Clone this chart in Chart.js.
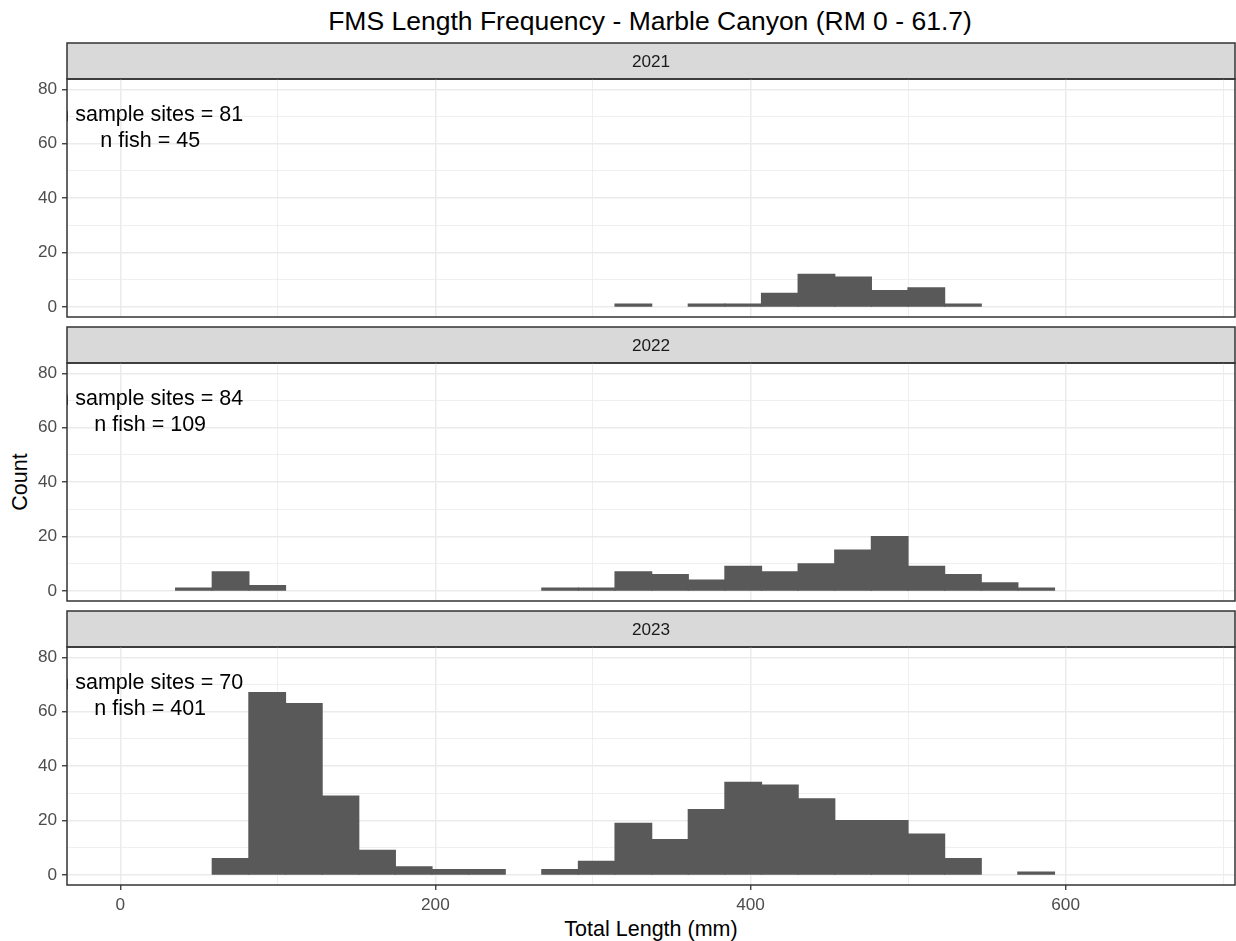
<!DOCTYPE html>
<html>
<head>
<meta charset="utf-8">
<title>FMS Length Frequency - Marble Canyon</title>
<script src="https://cdn.jsdelivr.net/npm/chart.js@4.4.1/dist/chart.umd.min.js"></script>
<style>
  html, body { margin: 0; padding: 0; background: #ffffff; }
  body {
    width: 1236px; height: 941px; position: relative; overflow: hidden;
    font-family: "Liberation Sans", Arial, sans-serif;
  }
  canvas { position: absolute; left: 0; }
  .txt { position: absolute; white-space: nowrap; color: #000; }
  #main-title { left: 650px; top: 5px; font-size: 26.5px; line-height: 32px; transform: translateX(-50%); }
  #y-title { left: 20px; top: 482px; font-size: 21.5px; line-height: 24px; transform: translate(-50%, -50%) rotate(-90deg); }
  #x-title { left: 651px; top: 917px; font-size: 21.5px; line-height: 24px; transform: translateX(-50%); }
</style>
</head>
<body>
<div id="main-title" class="txt">FMS Length Frequency - Marble Canyon (RM 0 - 61.7)</div>
<div id="y-title" class="txt">Count</div>
<div id="x-title" class="txt">Total Length (mm)</div>

<canvas id="p2021" width="1236" height="276" style="top:42px"></canvas>
<canvas id="p2022" width="1236" height="276" style="top:326px"></canvas>
<canvas id="p2023" width="1236" height="331" style="top:610px"></canvas>

<script>
// Histogram bins (mm): centres of the 23.24 mm wide bins
const BIN_CENTERS = [46.78, 70.02, 93.26, 116.50, 139.74, 162.98, 186.22, 209.46,
                     232.70, 255.94, 279.18, 302.42, 325.66, 348.90, 372.14, 395.38,
                     418.62, 441.86, 465.10, 488.34, 511.58, 534.82, 558.06, 581.30];

// Fish counts per bin, one array per sampling year
const COUNTS_2021 = [0, 0, 0, 0, 0, 0, 0, 0, 0, 0, 0, 0, 1, 0, 1, 1, 5, 12, 11, 6, 7, 1, 0, 0];
const COUNTS_2022 = [1, 7, 2, 0, 0, 0, 0, 0, 0, 0, 1, 1, 7, 6, 4, 9, 7, 10, 15, 20, 9, 6, 3, 1];
const COUNTS_2023 = [0, 6, 67, 63, 29, 9, 3, 2, 2, 0, 2, 5, 19, 13, 24, 34, 33, 28, 20, 20, 15, 6, 0, 1];

const YEARS = ['2021', '2022', '2023'];
const SAMPLE_SITES = [81, 84, 70];

// Axis breaks
const X_TICKS = [0, 200, 400, 600];
const Y_TICKS = [0, 20, 40, 60, 80];
const X_MIN = -33.8, X_MAX = 707.5;
const Y_MIN = -3.7, Y_MAX = 83.8;

// Styling
const FONT = '"Liberation Sans", Arial, sans-serif';
const BAR_FILL = '#595959';
const GRID = '#EBEBEB';
const PANEL_LINE = '#333333';
const STRIP_FILL = '#D9D9D9';
const STRIP_TEXT = '#1A1A1A';
const TICK_TEXT = '#4D4D4D';
const STRIP_H = 36;
const LABEL_X = 19, LABEL_Y = 66;

// Facet strip, panel frame and the per-panel sample summary
const facetPlugin = {
  id: 'facet',
  beforeDraw(chart, args, o) {
    const { ctx, chartArea: a } = chart;
    ctx.save();
    ctx.fillStyle = STRIP_FILL;
    ctx.fillRect(a.left, a.top - STRIP_H, a.right - a.left, STRIP_H);
    ctx.strokeStyle = PANEL_LINE;
    ctx.lineWidth = 1.5;
    ctx.strokeRect(a.left, a.top - STRIP_H, a.right - a.left, STRIP_H);
    ctx.fillStyle = STRIP_TEXT;
    ctx.font = '17.2px ' + FONT;
    ctx.textAlign = 'center';
    ctx.textBaseline = 'middle';
    ctx.fillText(o.label, (a.left + a.right) / 2, a.top - STRIP_H / 2 + 1);
    ctx.restore();
  },
  afterDatasetsDraw(chart, args, o) {
    const { ctx, chartArea: a, scales } = chart;
    const cx = scales.x.getPixelForValue(LABEL_X);
    const cy = scales.y.getPixelForValue(LABEL_Y);
    ctx.save();
    ctx.beginPath();
    ctx.rect(a.left, a.top, a.right - a.left, a.bottom - a.top);
    ctx.clip();
    ctx.fillStyle = '#000000';
    ctx.font = '21.5px ' + FONT;
    ctx.textAlign = 'center';
    ctx.textBaseline = 'alphabetic';
    o.lines.forEach((line, i) => ctx.fillText(line, cx, cy - 6.5 + i * 26));
    ctx.restore();
  },
  afterDraw(chart) {
    const { ctx, chartArea: a } = chart;
    ctx.save();
    ctx.strokeStyle = PANEL_LINE;
    ctx.lineWidth = 1.5;
    ctx.strokeRect(a.left, a.top, a.right - a.left, a.bottom - a.top);
    ctx.restore();
  }
};

function makePanel(id, yearIdx, counts, isBottom) {
  const nFish = counts.reduce((s, v) => s + v, 0);
  return new Chart(document.getElementById(id), {
    type: 'bar',
    data: {
      datasets: [{
        // empty bins carry no bar
        data: BIN_CENTERS.map((x, i) => ({ x: x, y: counts[i] > 0 ? counts[i] : null })),
        backgroundColor: BAR_FILL,
        borderWidth: 0,
        inflateAmount: 0.6,
        barPercentage: 1,
        categoryPercentage: 1
      }]
    },
    options: {
      responsive: false,
      animation: false,
      devicePixelRatio: 1,
      events: [],
      layout: { padding: { top: STRIP_H + 1, right: 1, bottom: isBottom ? 0 : 1, left: 0 } },
      plugins: {
        legend: { display: false },
        tooltip: { enabled: false },
        facet: {
          label: YEARS[yearIdx],
          lines: ['n sample sites = ' + SAMPLE_SITES[yearIdx], 'n fish = ' + nFish]
        }
      },
      scales: {
        x: {
          type: 'linear',
          offset: false,
          min: X_MIN,
          max: X_MAX,
          border: { display: false },
          grid: {
            offset: false,
            color: GRID,
            lineWidth: c => (c.tick && X_TICKS.includes(c.tick.value)) ? 1.5 : 0.8,
            drawTicks: isBottom,
            tickLength: 5,
            tickWidth: 1.3,
            tickColor: c => (c.tick && X_TICKS.includes(c.tick.value)) ? PANEL_LINE : 'rgba(0,0,0,0)'
          },
          ticks: {
            display: isBottom,
            stepSize: 100,
            includeBounds: false,
            autoSkip: false,
            maxRotation: 0,
            minRotation: 0,
            padding: 5,
            color: TICK_TEXT,
            font: { family: FONT, size: 17.2 },
            callback: v => X_TICKS.includes(v) ? String(v) : ''
          },
          afterFit: s => { s.height = isBottom ? 56 : 0; s.paddingLeft = 0; s.paddingRight = 0; }
        },
        y: {
          type: 'linear',
          min: Y_MIN,
          max: Y_MAX,
          border: { display: false },
          grid: {
            color: GRID,
            lineWidth: c => (c.tick && Y_TICKS.includes(c.tick.value)) ? 1.5 : 0.8,
            tickLength: 5,
            tickWidth: 1.3,
            tickColor: c => (c.tick && Y_TICKS.includes(c.tick.value)) ? PANEL_LINE : 'rgba(0,0,0,0)'
          },
          ticks: {
            stepSize: 10,
            includeBounds: false,
            autoSkip: false,
            padding: 5,
            color: TICK_TEXT,
            font: { family: FONT, size: 17.2 },
            callback: v => Y_TICKS.includes(v) ? String(v) : ''
          },
          afterFit: s => { s.width = 67; s.paddingTop = 0; s.paddingBottom = 0; }
        }
      }
    },
    plugins: [facetPlugin]
  });
}

makePanel('p2021', 0, COUNTS_2021, false);
makePanel('p2022', 1, COUNTS_2022, false);
makePanel('p2023', 2, COUNTS_2023, true);
</script>
</body>
</html>
